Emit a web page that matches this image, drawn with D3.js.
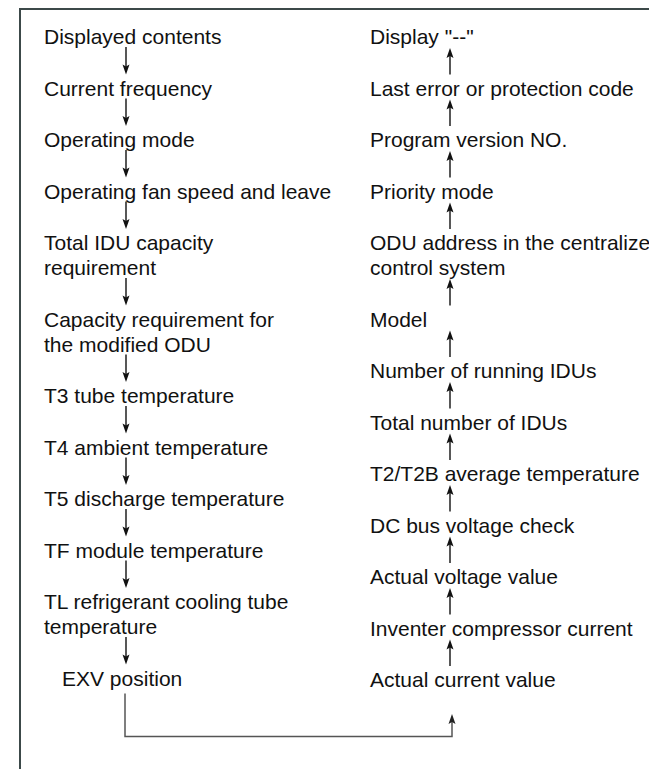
<!DOCTYPE html>
<html>
<head>
<meta charset="utf-8">
<script src="https://cdn.jsdelivr.net/npm/d3@7"></script>
<style>
  html, body { margin: 0; padding: 0; background: #fff; }
  svg { display: block; }
</style>
</head>
<body>
<script>
// left column, read top to bottom (arrows point down)
var leftItems = [
  ["Displayed contents"],
  ["Current frequency"],
  ["Operating mode"],
  ["Operating fan speed and leave"],
  ["Total IDU capacity", "requirement"],
  ["Capacity requirement for", "the modified ODU"],
  ["T3 tube temperature"],
  ["T4 ambient temperature"],
  ["T5 discharge temperature"],
  ["TF module temperature"],
  ["TL refrigerant cooling tube", "temperature"],
  ["EXV position"]
];

// right column, read top to bottom (arrows point up)
var rightItems = [
  ['Display "--"'],
  ["Last error or protection code"],
  ["Program version NO."],
  ["Priority mode"],
  ["ODU address in the centralize", "control system"],
  ["Model"],
  ["Number of running IDUs"],
  ["Total number of IDUs"],
  ["T2/T2B average temperature"],
  ["DC bus voltage check"],
  ["Actual voltage value"],
  ["Inventer compressor current"],
  ["Actual current value"]
];

var W = 649, H = 769;
var svg = d3.select("body").append("svg")
  .attr("width", W).attr("height", H);

// one unit = one text line
var y = d3.scaleLinear().domain([0, 1]).range([44, 69]);
var stepUnits = 2.06;

function layout(items) {
  var extra = 0;
  return items.map(function(lines, i) {
    var d = {lines: lines, index: i, pos: i * stepUnits + extra};
    extra += lines.length - 1;
    d.last = d.pos + lines.length - 1;
    return d;
  });
}

var left = layout(leftItems);
var right = layout(rightItems);

// frame
svg.append("path")
  .attr("d", "M20," + H + "V9H" + W)
  .attr("fill", "none")
  .attr("stroke", "#3c4949")
  .attr("stroke-width", 2);

function drawColumn(data, x, cls) {
  var g = svg.append("g").attr("class", cls);
  var t = g.selectAll("text").data(data).enter().append("text")
    .attr("x", function(d, i) { return (cls === "left" && i === data.length - 1) ? x + 18 : x; })
    .attr("font-family", "'Liberation Sans', Arial, sans-serif")
    .attr("font-size", 21)
    .attr("fill", "#111");
  t.selectAll("tspan").data(function(d) {
      return d.lines.map(function(l, k) { return {text: l, pos: d.pos + k}; });
    })
    .enter().append("tspan")
    .attr("x", function() { return d3.select(this.parentNode).attr("x"); })
    .attr("y", function(d) { return y(d.pos); })
    .text(function(d) { return d.text; });
}

drawColumn(left, 44, "left");
drawColumn(right, 370, "right");

function arrow(x, y1, y2, color, width) {
  // shaft from y1 to tip y2
  var dir = y2 > y1 ? 1 : -1;
  var headLen = 10, headW = 3.5;
  svg.append("line")
    .attr("x1", x).attr("x2", x)
    .attr("y1", y1).attr("y2", y2 - dir * headLen * 0.6)
    .attr("stroke", color).attr("stroke-width", width);
  svg.append("path")
    .attr("d", "M" + x + "," + y2 +
      "L" + (x - headW) + "," + (y2 - dir * headLen) +
      "L" + x + "," + (y2 - dir * headLen * 0.8) +
      "L" + (x + headW) + "," + (y2 - dir * headLen) + "Z")
    .attr("fill", color);
}

var leftX = 126, rightX = 450;

d3.pairs(left).forEach(function(p) {
  arrow(leftX, y(p[0].last) + 3, y(p[1].pos) - 21, "#111", 1.4);
});
d3.pairs(right).forEach(function(p) {
  arrow(rightX, y(p[1].pos) - 21, y(p[0].last) + 4, "#111", 1.4);
});

// loop from the last left item back to the last right item
var lastL = left[left.length - 1], lastR = right[right.length - 1];
var loopY = y(lastL.last) + 51;
svg.append("path")
  .attr("d", "M" + (leftX - 1) + "," + (y(lastL.last) + 8) +
    "V" + loopY + "H" + (rightX + 2) + "V" + (y(lastR.last) + 32))
  .attr("fill", "none")
  .attr("stroke", "#555")
  .attr("stroke-width", 1.5);
arrow(rightX + 2, y(lastR.last) + 34, y(lastR.last) + 27, "#222", 1.5);
</script>
</body>
</html>
